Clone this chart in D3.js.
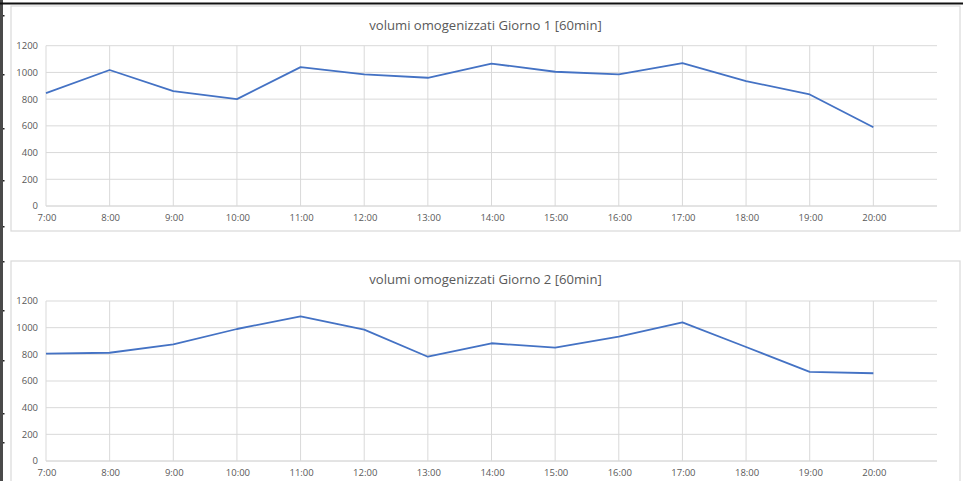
<!DOCTYPE html>
<html><head><meta charset="utf-8">
<script src="https://cdn.jsdelivr.net/npm/d3@7"></script>
<style>body{margin:0;background:#fff;}svg{display:block;}</style>
</head><body>
<svg id="c" width="968" height="481"></svg>
<script>
const categories = ["7:00","8:00","9:00","10:00","11:00","12:00","13:00","14:00","15:00","16:00","17:00","18:00","19:00","20:00"];
const day1Values = [845, 1018, 860, 800, 1040, 985, 960, 1066, 1005, 985, 1070, 935, 835, 590];
const day2Values = [805, 812, 875, 990, 1085, 985, 782, 883, 850, 932, 1040, 855, 668, 658];
const yTicks = [0, 200, 400, 600, 800, 1000, 1200];
const titles = ["volumi omogenizzati Giorno 1 [60min]", "volumi omogenizzati Giorno 2 [60min]"];

const svg = d3.select("#c");
const FONT = "'Open Sans', 'Noto Sans', sans-serif";
const gray = "#595959", grid = "#d9d9d9", lineCol = "#4472C4";

// page frame (screenshot border)
svg.append("rect").attr("x",0).attr("y",0).attr("width",3).attr("height",481).attr("fill","#4a4a4a");
svg.append("rect").attr("x",0).attr("y",2.5).attr("width",963).attr("height",2).attr("fill","#111");
[15,74,128,180,226,261,310,360,413,442].forEach(y=>{
  svg.append("rect").attr("x",3).attr("y",y).attr("width",1.5).attr("height",1.5).attr("fill","#222");
});

function drawChart(values, title, L){
  const g = svg.append("g");
  g.append("rect").attr("x",L.bx).attr("y",L.by).attr("width",L.bw).attr("height",L.bh)
    .attr("fill","#fff").attr("stroke",grid).attr("stroke-width",1.2);
  const x = d3.scaleLinear().domain([0, categories.length]).range([L.x0, L.x1]);
  const y = d3.scaleLinear().domain([0, 1200]).range([L.y0, L.y1]);
  g.selectAll(".hg").data(yTicks).join("line")
    .attr("x1",L.x0).attr("x2",L.x1).attr("y1",d=>y(d)).attr("y2",d=>y(d))
    .attr("stroke",d=>d===0?"#c8c8c8":grid).attr("stroke-width",1);
  g.selectAll(".vg").data(categories).join("line")
    .attr("x1",(d,i)=>x(i)).attr("x2",(d,i)=>x(i)).attr("y1",y(1200)).attr("y2",y(0))
    .attr("stroke",grid).attr("stroke-width",1);
  g.selectAll(".yl").data(yTicks).join("text")
    .attr("x",L.x0-8).attr("y",d=>y(d)+3.4).attr("text-anchor","end")
    .attr("font-family",FONT).attr("font-size",9.5).attr("fill",gray).text(d=>d);
  g.selectAll(".xl").data(categories).join("text")
    .attr("x",(d,i)=>x(i)+1).attr("y",L.y0+15).attr("text-anchor","middle")
    .attr("font-family",FONT).attr("font-size",9.5).attr("fill",gray).text(d=>d);
  const line = d3.line().x((d,i)=>x(i)).y(d=>y(d));
  g.append("path").datum(values).attr("d",line).attr("fill","none")
    .attr("stroke",lineCol).attr("stroke-width",1.8).attr("stroke-linejoin","round");
  g.append("text").attr("x",L.bx+L.bw/2).attr("y",L.ty).attr("text-anchor","middle")
    .attr("font-family",FONT).attr("font-size",13.1).attr("fill",gray).text(title);
}

drawChart(day1Values, titles[0], {bx:11,by:6,bw:949,bh:225,x0:46,x1:937,y0:206,y1:45.7,ty:29.5});
drawChart(day2Values, titles[1], {bx:11,by:261,bw:949,bh:240,x0:46,x1:937,y0:461,y1:301,ty:283.5});
</script>
</body></html>
